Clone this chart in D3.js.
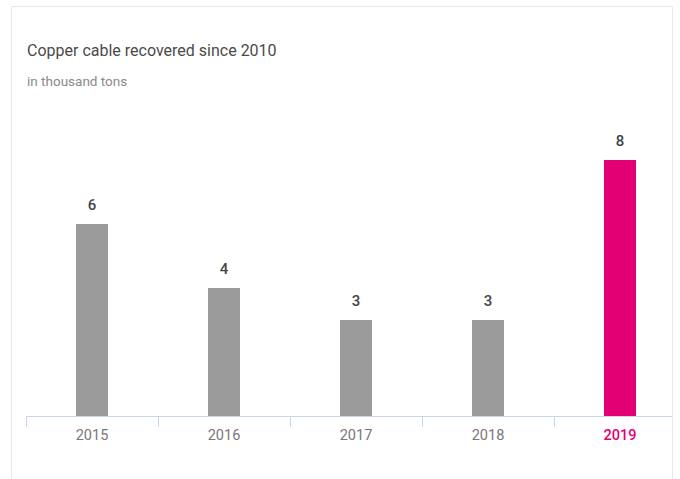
<!DOCTYPE html>
<head><style>
body { margin: 0; background: #fff; }
svg { display: block; font-family: Roboto, "Noto Sans", sans-serif; }
</style></head>
<body>
    <div class="container"></div>
    <script src="https://d3js.org/d3.v7.min.js"></script>
    <script>
        var years = ['2015', '2016', '2017', '2018', '2019'];
        var values = [6, 4, 3, 3, 8];
        var highlight = '2019';

        var svg = d3.select('.container')
                    .append('svg')
                    .attr('width', 680)
                    .attr('height', 479);

        // card frame
        svg.append('path')
           .attr('d', 'M11.5,479 V6.5 H672.5 V479')
           .attr('fill', 'none')
           .attr('stroke', '#e8e8e8');

        svg.append('text')
           .attr('x', 27).attr('y', 56)
           .attr('font-size', 16)
           .attr('fill', '#4a4a4a')
           .text('Copper cable recovered since 2010');
        svg.append('text')
           .attr('x', 27).attr('y', 86)
           .attr('font-size', 13.5)
           .attr('fill', '#8a8a8a')
           .text('in thousand tons');

        var xscale = d3.scaleBand()
                       .domain(years)
                       .range([26, 686]);
        var yscale = d3.scaleLinear()
                       .domain([0, 8])
                       .range([416, 160]);

        var bw = 32;
        svg.selectAll('rect.bar')
           .data(years)
           .enter().append('rect')
           .attr('class', 'bar')
           .attr('x', function(d) { return xscale(d) + xscale.bandwidth() / 2 - bw / 2; })
           .attr('y', function(d, i) { return yscale(values[i]); })
           .attr('width', bw)
           .attr('height', function(d, i) { return yscale(0) - yscale(values[i]); })
           .attr('fill', function(d) { return d === highlight ? '#e20074' : '#9b9b9b'; });

        svg.selectAll('text.val')
           .data(years)
           .enter().append('text')
           .attr('class', 'val')
           .attr('x', function(d) { return xscale(d) + xscale.bandwidth() / 2; })
           .attr('y', function(d, i) { return yscale(values[i]) - 14; })
           .attr('text-anchor', 'middle')
           .attr('font-size', 15)
           .attr('font-weight', 500)
           .attr('fill', '#444')
           .text(function(d, i) { return values[i]; });

        // axis
        var axis = svg.append('g');
        axis.append('line')
            .attr('x1', 26).attr('x2', 672)
            .attr('y1', 416.5).attr('y2', 416.5)
            .attr('stroke', '#c9d6ea');
        axis.selectAll('line.tick')
            .data(years)
            .enter().append('line')
            .attr('class', 'tick')
            .attr('x1', function(d) { return Math.round(xscale(d)) + 0.5; })
            .attr('x2', function(d) { return Math.round(xscale(d)) + 0.5; })
            .attr('y1', 416).attr('y2', 427)
            .attr('stroke', '#c9d6ea');
        axis.selectAll('text.lbl')
            .data(years)
            .enter().append('text')
            .attr('class', 'lbl')
            .attr('x', function(d) { return xscale(d) + xscale.bandwidth() / 2; })
            .attr('y', 440)
            .attr('text-anchor', 'middle')
            .attr('font-size', 14.5)
            .attr('font-weight', function(d) { return d === highlight ? 500 : 'normal'; })
            .attr('fill', function(d) { return d === highlight ? '#e20074' : '#777'; })
            .text(function(d) { return d; });
    </script>
</body>
